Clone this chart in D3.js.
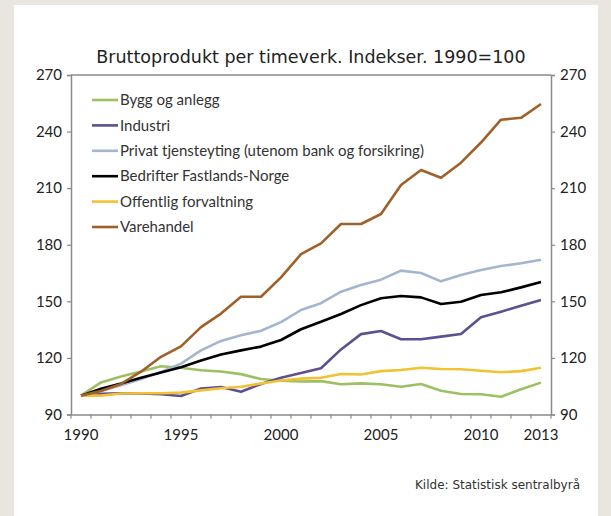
<!DOCTYPE html>
<html lang="no">
<head>
    <meta charset="UTF-8">
    <title>Bruttoprodukt per timeverk</title>
    <script src="https://d3js.org/d3.v7.min.js"></script>
    <style>
        html, body { margin: 0; padding: 0; background: #e9e5df; }
        #chart { position: absolute; left: 0; top: 0; }
    </style>
</head>
<body>
    <div id="chart"></div>
    <script>
        // Data (index 1990 = 100)
        const years = ["1990","1991","1992","1993","1994","1995","1996","1997","1998","1999","2000","2001",
                       "2002","2003","2004","2005","2006","2007","2008","2009","2010","2011","2012","2013"];
        const yearLabels = ["1990","1995","2000","2005","2010","2013"];
        const yTicks = [90, 120, 150, 180, 210, 240, 270];

        const bygg = [100, 107, 110.2, 112.8, 115.6, 114.8, 113.5, 112.8, 111.4, 108.8, 107.9, 107.5,
                      107.7, 106, 106.5, 106, 104.7, 106.2, 102.6, 100.9, 100.7, 99.4, 103.4, 106.9];
        const industri = [100, 101, 101.3, 101.2, 100.7, 99.8, 103.8, 104.6, 102.1, 106.2, 109.5, 112,
                          114.5, 124.5, 132.6, 134.3, 129.9, 129.9, 131.3, 132.7, 141.5, 144.5, 147.7, 150.7];
        const privat = [100, 102.5, 105.5, 108.8, 112.5, 117, 124, 129, 132, 134.4, 139, 145.4,
                        149, 155.1, 158.7, 161.5, 166.3, 165, 160.6, 164, 166.6, 168.7, 170.2, 172];
        const bedrifter = [100, 103.6, 106.4, 109.5, 112.3, 115, 118.6, 121.8, 124, 126, 129.5, 135.2,
                           139.2, 143.3, 148, 151.6, 152.8, 152.1, 148.6, 149.8, 153.4, 154.8, 157.4, 160.3];
        const offentlig = [100, 100, 101.1, 101.3, 101.3, 101.6, 102.8, 103.9, 104.7, 106.4, 108, 109,
                           109.5, 111.5, 111.2, 113, 113.6, 114.8, 114.1, 114, 113.2, 112.4, 113, 114.8];
        const varehandel = [100, 102.5, 106.2, 112.7, 120.6, 126.1, 136.3, 143.5, 152.4, 152.4, 162.7, 175,
                            180.7, 191, 191, 196.3, 211.7, 219.6, 215.5, 223.5, 234.2, 246.3, 247.3, 254.6];

        const series = [
            {name: "Bygg og anlegg", values: bygg, color: "#9dc062"},
            {name: "Industri", values: industri, color: "#5e4f93"},
            {name: "Privat tjensteyting (utenom bank og forsikring)", values: privat, color: "#a4b6cf"},
            {name: "Bedrifter Fastlands-Norge", values: bedrifter, color: "#000000"},
            {name: "Offentlig forvaltning", values: offentlig, color: "#f1c232"},
            {name: "Varehandel", values: varehandel, color: "#a0602a"}
        ];

        const W = 611, H = 516;
        const margin = {top: 75, right: 60, bottom: 101.5, left: 71};
        const width = W - margin.left - margin.right,
              height = H - margin.top - margin.bottom;

        const svg = d3.select("#chart")
          .append("svg")
            .attr("width", W)
            .attr("height", H);

        // white panel on beige page
        svg.append("rect")
            .attr("x", 14).attr("y", 5)
            .attr("width", 584).attr("height", H - 5)
            .attr("fill", "#ffffff");

        const g = svg.append("g")
            .attr("transform", `translate(${margin.left},${margin.top})`);

        const x = d3.scaleBand().domain(years).range([0, width]).padding(0);
        const y = d3.scaleLinear().domain([90, 270]).range([height, 0]);
        const cx = d => x(d) + x.bandwidth() / 2;

        const axisColor = "#8a8a8a";
        const tickFont = "Lato, 'Open Sans', sans-serif";

        // top border
        g.append("line")
            .attr("x1", 0).attr("x2", width).attr("y1", 0).attr("y2", 0)
            .attr("stroke", axisColor).attr("stroke-width", 1.5);

        // Y axes left and right
        const yLeft = g.append("g")
            .call(d3.axisLeft(y).tickValues(yTicks).tickSize(4).tickPadding(5));
        const yRight = g.append("g")
            .attr("transform", `translate(${width},0)`)
            .call(d3.axisRight(y).tickValues(yTicks).tickSize(4).tickPadding(5));

        // X axis: labels at category centres, tick marks on category boundaries
        const xAxis = g.append("g")
            .attr("transform", `translate(0,${height})`)
            .call(d3.axisBottom(x).tickValues(yearLabels).tickSize(0).tickPadding(15));
        const bounds = years.map(d => x(d)).concat([width]);
        xAxis.selectAll(".bound")
            .data(bounds)
            .join("line")
            .attr("class", "bound")
            .attr("x1", d => d).attr("x2", d => d)
            .attr("y1", 0).attr("y2", 4)
            .attr("stroke", axisColor).attr("stroke-width", 1.2);

        [yLeft, yRight, xAxis].forEach(a => {
            a.select(".domain").attr("stroke", axisColor).attr("stroke-width", 1.5);
            a.selectAll(".tick line").attr("stroke", axisColor).attr("stroke-width", 1.2);
            a.selectAll("text")
                .attr("fill", "#222")
                .style("font-family", tickFont)
                .style("font-size", "15px");
        });

        // lines
        const line = d3.line()
            .x((d, i) => cx(years[i]))
            .y(d => y(d));

        g.selectAll(".series")
            .data(series)
            .join("path")
            .attr("class", "series")
            .attr("fill", "none")
            .attr("stroke", d => d.color)
            .attr("stroke-width", 2.6)
            .attr("stroke-linejoin", "round")
            .attr("d", d => line(d.values));

        // legend
        const legend = svg.append("g");
        const leg = legend.selectAll(".leg")
            .data(series)
            .join("g")
            .attr("class", "leg")
            .attr("transform", (d, i) => `translate(92,${100 + i * 25.4})`);
        leg.append("line")
            .attr("x1", 0).attr("x2", 26)
            .attr("stroke", d => d.color)
            .attr("stroke-width", 2.6);
        leg.append("text")
            .attr("x", 28)
            .attr("dy", "0.35em")
            .attr("fill", "#333")
            .style("font-family", tickFont)
            .style("font-size", "15px")
            .text(d => d.name);

        // title
        svg.append("text")
            .attr("x", 311)
            .attr("y", 63)
            .attr("text-anchor", "middle")
            .attr("fill", "#222")
            .style("font-family", "'DejaVu Sans', Verdana, sans-serif")
            .style("font-size", "17.5px")
            .text("Bruttoprodukt per timeverk. Indekser. 1990=100");

        // source
        svg.append("text")
            .attr("x", 580)
            .attr("y", 489)
            .attr("text-anchor", "end")
            .attr("fill", "#333")
            .style("font-family", "'DejaVu Sans', Verdana, sans-serif")
            .style("font-size", "12px")
            .text("Kilde: Statistisk sentralbyrå");
    </script>
</body>
</html>
